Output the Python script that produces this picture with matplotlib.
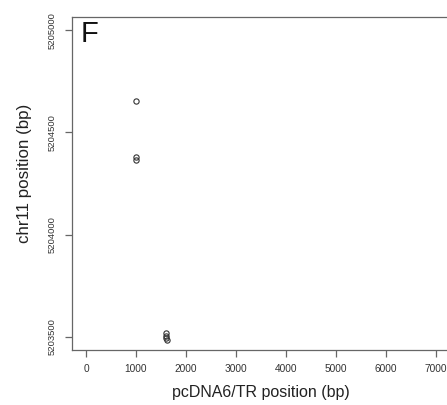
import matplotlib
matplotlib.use("Agg")
import matplotlib.pyplot as plt

plt.rcParams['font.family'] = ['Liberation Sans', 'DejaVu Sans']

x_pos = [1000, 995, 1005, 1600, 1605, 1595, 1610]
y_pos = [5204655, 5204380, 5204365, 5203520, 5203505, 5203495, 5203485]
x_ticks = [0, 1000, 2000, 3000, 4000, 5000, 6000, 7000]
y_ticks = [5203500, 5204000, 5204500, 5205000]

fig = plt.figure(figsize=(4.47, 4.05), dpi=100)
ax = fig.add_axes([72/447, 55/405, 378/447, 333/405])
ax.plot(x_pos, y_pos, linestyle='none', marker='o', markersize=3.8,
        markerfacecolor='none', markeredgecolor='#333333', markeredgewidth=0.8)
ax.set_xlim(-280, 7280)
ax.set_ylim(5203436, 5205064)
ax.set_xticks(x_ticks)
ax.set_xticklabels([str(v) for v in x_ticks], fontsize=7.3, color='#333333')
ax.set_yticks(y_ticks)
ax.set_yticklabels([str(v) for v in y_ticks], fontsize=6.8, color='#333333',
                   rotation=90, va='center')
for s in ax.spines.values():
    s.set_color('#666666')
    s.set_linewidth(0.9)
ax.tick_params(axis='both', colors='#666666', length=5, width=0.9, pad=5)
ax.tick_params(axis='x', labelcolor='#333333', pad=5)
ax.tick_params(axis='y', labelcolor='#333333', pad=6)
ax.set_xlabel('pcDNA6/TR position (bp)', fontsize=11.5, color='#222222', labelpad=8)
ax.set_ylabel('chr11 position (bp)', fontsize=12.2, color='#222222')
ax.yaxis.set_label_coords(-0.106, 0.53)
ax.text(0.024, 0.99, 'F', transform=ax.transAxes, fontsize=21, ha='left', va='top',
        color='#111111')
fig.savefig('out.png', dpi=100)
